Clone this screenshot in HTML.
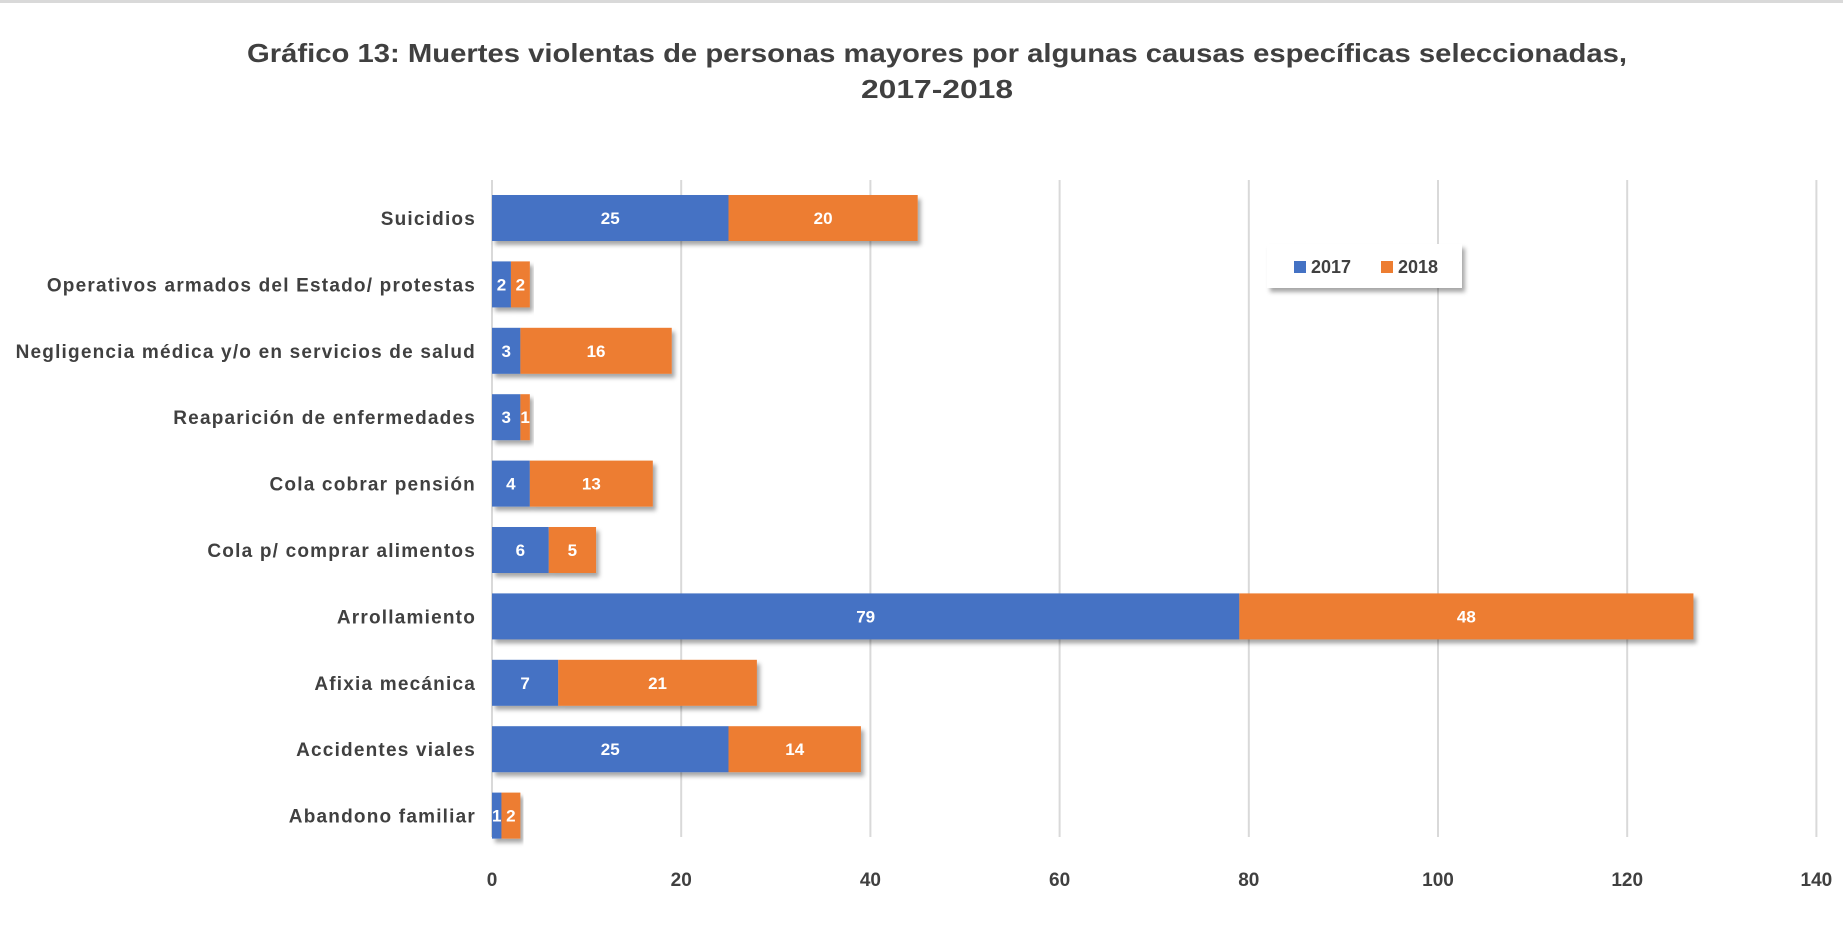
<!DOCTYPE html>
<html><head><meta charset="utf-8"><style>
body{margin:0;background:#fff;}
svg{display:block;font-family:"Liberation Sans",sans-serif;}
</style></head><body>
<svg id="chart" width="1843" height="949" viewBox="0 0 1843 949" xmlns="http://www.w3.org/2000/svg">
<defs><filter id="sh" x="-5%" y="-20%" width="115%" height="160%"><feDropShadow dx="3" dy="4" stdDeviation="2" flood-color="#000" flood-opacity="0.35"/></filter></defs>
<rect x="0" y="0" width="1843" height="3" fill="#d9d9d9"/>
<text x="937" y="62" text-anchor="middle" font-size="26" font-weight="bold" fill="#404040" textLength="1380" lengthAdjust="spacingAndGlyphs">Gráfico 13: Muertes violentas de personas mayores por algunas causas específicas seleccionadas,</text>
<text x="937" y="98" text-anchor="middle" font-size="26" font-weight="bold" fill="#404040" textLength="152" lengthAdjust="spacingAndGlyphs">2017-2018</text>
<g id="grid"></g>
<g id="bars"></g>
<g id="ylabels"></g>
<g id="xticks"></g>
<g>
<rect x="1267" y="244" width="195" height="44" fill="#fff" filter="url(#sh)"/>
<rect x="1294" y="261" width="12" height="12" fill="#4472c4"/>
<text x="1311" y="273" font-size="18" font-weight="bold" fill="#404040">2017</text>
<rect x="1381" y="261" width="12" height="12" fill="#ed7d31"/>
<text x="1398" y="273" font-size="18" font-weight="bold" fill="#404040">2018</text>
</g>
</svg>
<script>
const categories=["Suicidios","Operativos armados del Estado/ protestas","Negligencia médica y/o en servicios de salud","Reaparición de enfermedades","Cola cobrar pensión","Cola p/ comprar alimentos","Arrollamiento","Afixia mecánica","Accidentes viales","Abandono familiar"];
const values2017=[25,2,3,3,4,6,79,7,25,1];
const values2018=[20,2,16,1,13,5,48,21,14,2];
const xTicks=[0,20,40,60,80,100,120,140];
const NS="http://www.w3.org/2000/svg";
const x0=492,pxPer=9.46,rowTop=218,rowStep=66.4,barH=46;
const xs=v=>x0+v*pxPer;
const yc=i=>rowTop+i*rowStep;
function mk(tag,attrs,parent){const e=document.createElementNS(NS,tag);for(const k in attrs)e.setAttribute(k,attrs[k]);parent.appendChild(e);return e;}
const grid=document.getElementById('grid'),bars=document.getElementById('bars'),yl=document.getElementById('ylabels'),xt=document.getElementById('xticks');
xTicks.forEach(t=>{
 const l=mk('line',{x1:xs(t),x2:xs(t),y1:180,y2:837,stroke:'#d9d9d9','stroke-width':2},grid);
 
 
 const tx=mk('text',{x:xs(t),y:886,'text-anchor':'middle','font-size':19,'font-weight':'bold',fill:'#404040'},xt);
 tx.textContent=t;
 
 
});
categories.forEach((c,i)=>{
 const y=yc(i);
 const lab=mk('text',{x:476,y:y+7,'text-anchor':'end','font-size':19,'font-weight':'bold','letter-spacing':'1.2',fill:'#404040'},yl);
 lab.textContent=c;
 
 
 const g=mk('g',{filter:'url(#sh)'},bars);
 
 
 const a=values2017[i],b=values2018[i];
 const r1=mk('rect',{x:xs(0),y:y-barH/2,width:xs(a)-xs(0),height:barH,fill:'#4472c4'},g);
 
 
 const r2=mk('rect',{x:xs(a),y:y-barH/2,width:xs(a+b)-xs(a),height:barH,fill:'#ed7d31'},g);
 
 
 [[a,0],[b,a]].forEach(([v,s],k)=>{
  const t=mk('text',{x:(xs(s)+xs(s+v))/2,y:y+6,'text-anchor':'middle','font-size':17,'font-weight':'bold',fill:'#fff'},bars);
  t.textContent=v;
  
  
 });
});
</script>
</body></html>
